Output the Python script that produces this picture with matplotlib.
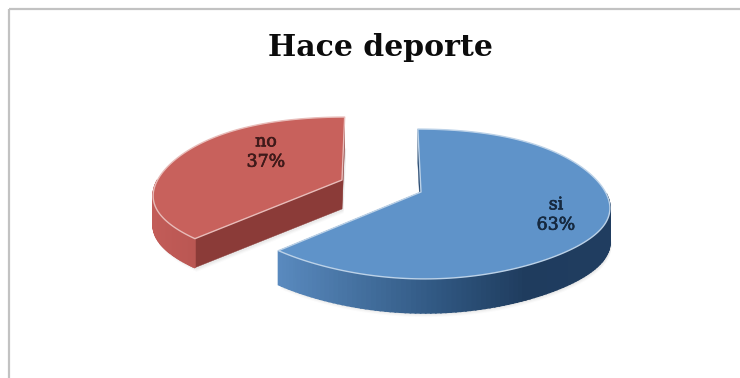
import numpy as np
import matplotlib
matplotlib.use("Agg")
import matplotlib.pyplot as plt
import matplotlib.patheffects as pe
from matplotlib.colors import to_rgb
from matplotlib.patches import Polygon

TITLE = "Hace deporte"
categories = ["si", "no"]
values = [63, 37]

W, H = 740, 378
fig = plt.figure(figsize=(W / 100, H / 100), dpi=100, facecolor="white")
ax = fig.add_axes([0, 0, 1, 1])
ax.set_xlim(0, W)
ax.set_ylim(H, 0)
ax.axis("off")

# Projection of the tilted pie: far points shrink toward a vanishing column
VANISH_X = 378
RX, RY = 188, 73
PERSP_X, PERSP_Y = 0.08, 0.16
SAG = 9


def project(theta, r, apex):
    sx = 1 / (1 + PERSP_X * np.cos(theta) * r)
    sy = 1 / (1 + PERSP_Y * np.cos(theta) * r)
    x = VANISH_X + ((apex[0] - VANISH_X) + RX * r * np.sin(theta)) * sx
    y = apex[1] - RY * r * np.cos(theta) * sy + SAG * r * np.sin(theta) ** 4
    return np.column_stack([np.atleast_1d(x), np.atleast_1d(y)])


def lerp(stops, t):
    pos = np.linspace(0, 1, len(stops))
    rgb = np.array([to_rgb(c) for c in stops])
    return [np.interp(t, pos, rgb[:, i]) for i in range(3)]


def draw_slice(start, end, apex, depth, top, side, rim, stops):
    th = np.linspace(start, end, 160)
    arc = project(th, 1.0, apex)
    cen = np.array([apex], float)
    drop = np.array([0, depth])

    # soft contact shadow below the slice
    for grow, alpha in zip((7, 5, 3), (0.03, 0.05, 0.07)):
        pts = np.vstack([arc, cen]) + drop + [1.5, grow * 0.6]
        ax.add_patch(Polygon(pts, closed=True, fc="#777777", ec="none",
                             alpha=alpha, zorder=1))

    # straight walls running in from the rim to the apex
    for ring_pt in (arc[0], arc[-1]):
        quad = np.array([ring_pt, cen[0], cen[0] + drop, ring_pt + drop])
        ax.add_patch(Polygon(quad, closed=True, fc=side, ec=side, lw=0.3, zorder=2))

    # curved outer wall, shaded strip by strip where it faces the viewer
    order = [i for i in range(len(arc) - 1) if np.cos(th[i]) <= 0.12]
    for i in order:
        x_frac = (arc[i, 0] - arc[:, 0].min()) / np.ptp(arc[:, 0])
        c = lerp(stops, x_frac)
        quad = np.array([arc[i], arc[i + 1], arc[i + 1] + drop, arc[i] + drop])
        ax.add_patch(Polygon(quad, closed=True, fc=c, ec=c, lw=1.2, zorder=3))

    # top face with a pale rim
    face = np.vstack([cen, arc])
    ax.add_patch(Polygon(face, closed=True, fc=top, ec=rim, lw=1.0,
                         joinstyle="round", zorder=4))


# Slices run clockwise from twelve o'clock
fractions = np.array(values, float) / sum(values)
edges = np.concatenate([[0], np.cumsum(fractions)]) * 2 * np.pi

draw_slice(edges[1], edges[2], (342, 180), 29, "#c8615c", "#8b3b38", "#e8bcb9",
           ["#c25c58", "#b0504c", "#96423f"])
draw_slice(edges[0], edges[1], (421, 192), 34, "#5f93c9", "#2b4c72", "#bcd2e8",
           ["#5a8abf", "#44709f", "#2f5680", "#1f3c5e", "#203d60"])

# Chart frame
ax.plot([9, 9], [H, 9], color="#c2c2c2", lw=1.6, solid_capstyle="butt")
ax.plot([9, W], [9, 9], color="#c2c2c2", lw=1.6, solid_capstyle="butt")

serif = ["DejaVu Serif"]
ax.text(380, 47, TITLE, ha="center", va="center", fontsize=21.5, fontweight="bold",
        family=serif, color="#0c0c0c")
for label, value, x, y, ink in [(categories[0], values[0], 556, 215, "#16293f"),
                                (categories[1], values[1], 266, 152, "#3f1a1a")]:
    t = ax.text(x, y, f"{label}\n{value}%", ha="center", va="center", fontsize=12.5,
                family=serif, color=ink, linespacing=1.25, zorder=6)
    t.set_path_effects([pe.withStroke(linewidth=0.5, foreground=ink)])

fig.savefig("out.png", dpi=100)
